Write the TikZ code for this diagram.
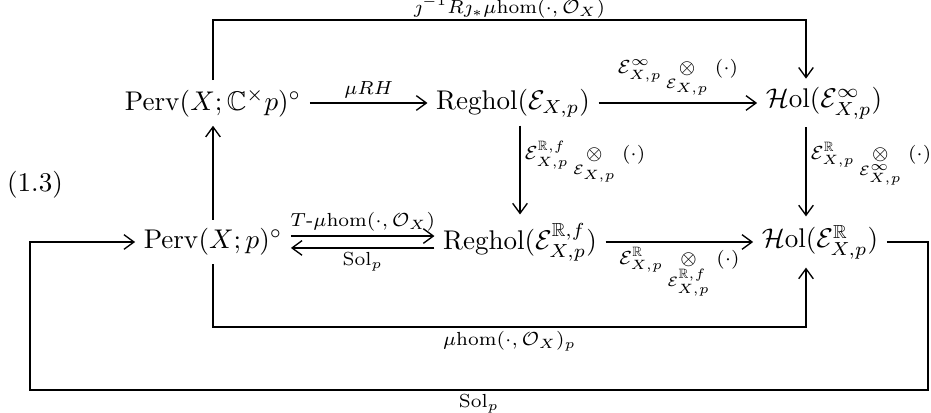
\documentclass[tikz,border=0pt]{standalone}
\usepackage{amsmath,amssymb}
\usetikzlibrary{arrows.meta}
\newcommand{\cE}{\mathcal{E}}
\newcommand{\muhom}{\mu\mathrm{hom}}
\begin{document}
\begin{tikzpicture}[x=0.013cm, y=-0.013cm,
  obj/.style={inner sep=3pt},
  lbl/.style={font=\scriptsize, inner sep=1.5pt},
  map/.style={-{Straight Barb[length=1.3mm, width=1.9mm]}, line width=0.5pt}]
\useasboundingbox (0,0) rectangle (931,413);
\node[obj] (pc) at (213,103) {$\mathrm{Perv}(X;\mathbb{C}^\times p)^\circ$};
\node[obj] (rg) at (513,103) {$\mathrm{Reghol}(\cE_{X,p})$};
\node[obj] (hi) at (824,103) {$\mathcal{H}\mathrm{ol}(\cE^\infty_{X,p})$};
\node[obj] (pp) at (213,242) {$\mathrm{Perv}(X;p)^\circ$};
\node[obj] (rgf) at (520,242) {$\mathrm{Reghol}(\cE^{\mathbb{R},f}_{X,p})$};
\node[obj] (hr) at (820,242) {$\mathcal{H}\mathrm{ol}(\cE^{\mathbb{R}}_{X,p})$};
\node (eqno) at (35,185) {(1.3)};
\coordinate (rail) at (806,20);
\coordinate (brail) at (806,327);
\coordinate (oe) at (928,390);
\coordinate (ow) at (30,390);
% top row
\draw[map] (pc) -- node[lbl,above]{$\mu RH$} (rg);
\draw[map] (rg) -- node[lbl,above]{$\cE^\infty_{X,p}\mathop{\otimes}\limits_{\cE_{X,p}}\;(\cdot)$} (hi);
% verticals
\draw[map] (pp) -- (pc);
\draw[map] (rg.south -| rgf.north) -- node[lbl,right,pos=0.42]{$\cE^{\mathbb{R},f}_{X,p}\mathop{\otimes}\limits_{\cE_{X,p}}\;(\cdot)$} (rgf.north);
\draw[map] (rail |- hi.south) -- node[lbl,right,pos=0.42]{$\cE^{\mathbb{R}}_{X,p}\mathop{\otimes}\limits_{\cE^\infty_{X,p}}\;(\cdot)$} (rail |- hr.north);
% bottom row
\draw[map] ([yshift=2.2pt]pp.east) -- node[lbl,above]{$T$-$\muhom(\cdot,\mathcal{O}_X)$} ([yshift=2.2pt]rgf.west);
\draw[map] ([yshift=-2.2pt]rgf.west) -- node[lbl,below]{$\mathrm{Sol}_p$} ([yshift=-2.2pt]pp.east);
\draw[map] (rgf) -- node[lbl,below]{$\cE^{\mathbb{R}}_{X,p}\mathop{\otimes}\limits_{\cE^{\mathbb{R},f}_{X,p}}\;(\cdot)$} (hr);
% loops
\draw[map] (pc.north) |- node[lbl,above,pos=0.75,inner sep=0.3pt]{$\jmath^{-1}R\jmath_*\muhom(\cdot,\mathcal{O}_X)$} (rail) -- (rail |- hi.north);
\draw[map] (pp.south) |- node[lbl,below,pos=0.75]{$\muhom(\cdot,\mathcal{O}_X)_p$} (brail) -- (brail |- hr.south);
\draw[map] (hr.east) -| (oe) -- node[lbl,below]{$\mathrm{Sol}_p$} (ow) |- (pp.west);
\end{tikzpicture}
\end{document}
